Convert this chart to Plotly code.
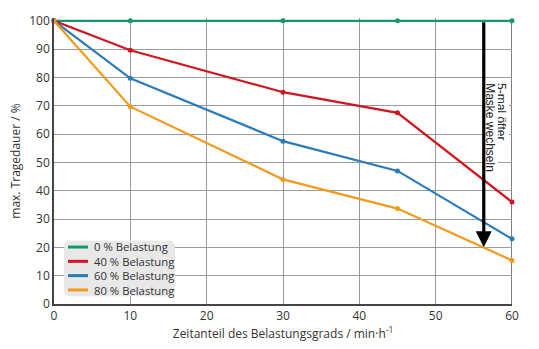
import plotly.graph_objects as go

# Zeitanteil des Belastungsgrads (min/h)
zeitanteil = [0, 10, 30, 45, 60]

# maximale Tragedauer in % je Belastungsstufe
namen = ["0 % Belastung", "40 % Belastung", "60 % Belastung", "80 % Belastung"]
werte = [
    [100, 100, 100, 100, 100],
    [100, 89.6, 74.8, 67.5, 36],
    [100, 79.7, 57.5, 47, 23],
    [100, 69.7, 44, 33.7, 15.4],
]
farben = ["#14996f", "#d2151f", "#2a7bb9", "#f29a1c"]

x_ticks = [0, 10, 20, 30, 40, 50, 60]
y_ticks = [0, 10, 20, 30, 40, 50, 60, 70, 80, 90, 100]

# Pfeil: Masken-Wechsel-Hinweis
pfeil_x = 56.3
pfeil_von = 100
pfeil_bis = 20
hinweis_zeilen = ["5-mal öfter", "Maske wechseln"]

fig = go.Figure()
for name, y, farbe in zip(namen, werte, farben):
    fig.add_trace(go.Scatter(
        x=zeitanteil, y=y, name=name, mode="lines+markers",
        line=dict(color=farbe, width=2.2),
        marker=dict(color=farbe, size=5),
        cliponaxis=False, showlegend=False,
    ))

# Legende als Kasten mit abgerundeten Ecken (Papier-Koordinaten)
W, H = 458.0, 294.0
def px(x):
    return x / W
def py(y):
    return y / H

lx0, lx1, ly0, ly1, r = 10, 121, 8, 65, 6
fig.add_shape(
    type="path", xref="paper", yref="paper", layer="above",
    path=(f"M {px(lx0 + r)} {py(ly0)} L {px(lx1 - r)} {py(ly0)} "
          f"Q {px(lx1)} {py(ly0)} {px(lx1)} {py(ly0 + r)} "
          f"L {px(lx1)} {py(ly1 - r)} Q {px(lx1)} {py(ly1)} {px(lx1 - r)} {py(ly1)} "
          f"L {px(lx0 + r)} {py(ly1)} Q {px(lx0)} {py(ly1)} {px(lx0)} {py(ly1 - r)} "
          f"L {px(lx0)} {py(ly0 + r)} Q {px(lx0)} {py(ly0)} {px(lx0 + r)} {py(ly0)} Z"),
    fillcolor="#e8e8e8", line=dict(width=0),
)
leg_font = 11.3
zeilenabstand = leg_font * 1.3
leg_mitte = (ly0 + ly1) / 2
for i, farbe in enumerate(farben):
    yr = leg_mitte + (1.5 - i) * zeilenabstand
    fig.add_shape(type="line", xref="paper", yref="paper", layer="above",
                  x0=px(14), x1=px(34), y0=py(yr), y1=py(yr),
                  line=dict(color=farbe, width=3))
fig.add_annotation(x=px(39), y=py(leg_mitte), xref="paper", yref="paper",
                   xanchor="left", yanchor="middle", align="left",
                   text="<br>".join(namen), showarrow=False, borderpad=0,
                   font=dict(family="Open Sans", size=leg_font, color="#333333"))

# Hinweistext, senkrecht gestellt, mit weißem Hintergrund
for zeile, xpos in zip(hinweis_zeilen, [58.65, 57.2]):
    fig.add_annotation(
        x=xpos, y=78.3, xref="x", yref="y", yanchor="top", text=zeile, showarrow=False,
        textangle=90, font=dict(family="Liberation Sans, Arial", size=12, color="#222222"),
        bgcolor="white", borderpad=0,
    )

fig.add_annotation(
    x=pfeil_x, y=pfeil_bis, ax=pfeil_x, ay=pfeil_von,
    xref="x", yref="y", axref="x", ayref="y",
    showarrow=True, arrowhead=2, arrowwidth=3.2, arrowsize=1.0,
    arrowcolor="#000000", standoff=0, text="",
)

fig.update_layout(
    width=539, height=349,
    margin=dict(l=54, r=27, t=15, b=40),
    paper_bgcolor="white", plot_bgcolor="white",
    font=dict(family="Open Sans", size=12, color="#333333"),
    showlegend=False,
)
fig.update_xaxes(
    range=[0, 60], tickvals=x_ticks, showgrid=True, gridcolor="#9a9a9a", gridwidth=1,
    showline=True, linecolor="#444444", linewidth=1.5, mirror=False,
    zeroline=False, ticks="", tickfont=dict(size=12),
    title=dict(text="Zeitanteil des Belastungsgrads / min·h<sup>-1</sup>", standoff=4,
               font=dict(size=12)),
)
fig.update_yaxes(
    range=[0, 101], tickvals=y_ticks, showgrid=True, gridcolor="#9a9a9a", gridwidth=1,
    showline=True, linecolor="#444444", linewidth=1.5, mirror=False,
    zeroline=False, ticks="", tickfont=dict(size=12),
    title=dict(text="max. Tragedauer / %", standoff=6, font=dict(size=12)),
)
# rechter Rand bei x = 60
fig.add_shape(type="line", xref="x", yref="y", x0=60, x1=60, y0=0, y1=100,
              line=dict(color="#555555", width=1.5), layer="below")

fig.write_html("out.html")
